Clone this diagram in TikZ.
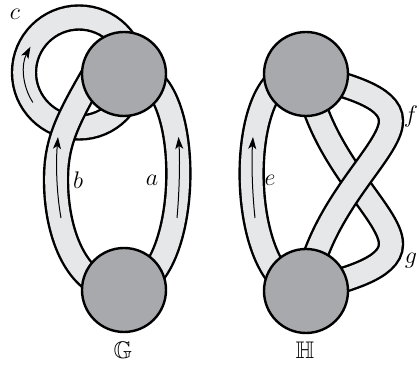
\documentclass[tikz,border=0pt]{standalone}
\usepackage{amsmath, amssymb}
\usetikzlibrary{arrows.meta, backgrounds, calc}
\definecolor{diskgray}{RGB}{167,169,172}
\definecolor{bandgray}{RGB}{230,231,232}

\begin{document}
\begin{tikzpicture}[x=0.5pt, y=-0.5pt, >={Stealth[length=6pt, width=4pt, inset=1.5pt]},
    font=\fontsize{12}{14}\selectfont]
    % Define styles
    \tikzstyle{disk} = [draw, fill=diskgray, circle, line width=1.2pt, minimum size=42pt, inner sep=0pt]
    \tikzstyle{ribbon} = [draw, line width=1.2pt, double=bandgray, double distance=10.8pt]
    \tikzstyle{flow} = [->, line width=0.5pt]
    \tikzstyle{letter} = [inner sep=0pt]

    \useasboundingbox (0,0) rectangle (419,367);

    % Nodes
    \node [disk] (Gtop) at (124,74) {};
    \node [disk] (Gbot) at (124,290) {};
    \node [disk] (Htop) at (306,74) {};
    \node [disk] (Hbot) at (306,291) {};
    \coordinate (ringc) at (79,72.5);

    \node [letter] (G) at (123,350) {$\mathbb{G}$};
    \node [letter] (H) at (305,350) {$\mathbb{H}$};
    \node [letter] (la) at (152,180) {$a$};
    \node [letter] (lb) at (78,180) {$b$};
    \node [letter] (lc) at (15,14) {$c$};
    \node [letter] (le) at (270,180) {$e$};
    \node [letter] (lf) at (411,117) {$f$};
    \node [letter] (lg) at (411,261) {$g$};

    % Connections
    \begin{scope}[on background layer]
    \draw [ribbon] (ringc) circle [radius=55];
    \draw [ribbon] (Gbot.center) .. controls (196,288) and (197,55) .. (Gtop.center);
    \draw [ribbon] (Gbot.center) .. controls (78,291) and (56,235) .. (56,180)
        .. controls (56,140) and (68,118) .. ($(Gtop)+(-22,-14)$);
    \draw [ribbon] (Hbot.center) .. controls (234,288) and (233,55) .. (Htop.center);
    \draw [ribbon] (Hbot.center) .. controls (342,280) and (391,270) .. (391,244)
        .. controls (391,213) and (320,160) .. (Htop.center);
    \draw [ribbon] (Htop.center) .. controls (342,85) and (391,95) .. (391,121)
        .. controls (391,152) and (320,205) .. (Hbot.center);
    \end{scope}

    % Arrows
    \draw [flow] ($(ringc)+(147:55)$) arc [start angle=147, end angle=208, radius=55];
    \draw [flow] (61,218) .. controls (56,190) and (56,160) .. (58,137);
    \draw [flow] (177,218) .. controls (179.5,190) and (180,160) .. (178.5,137);
    \draw [flow] (255,218) .. controls (252,190) and (251.5,160) .. (253,137);
\end{tikzpicture}
\end{document}
